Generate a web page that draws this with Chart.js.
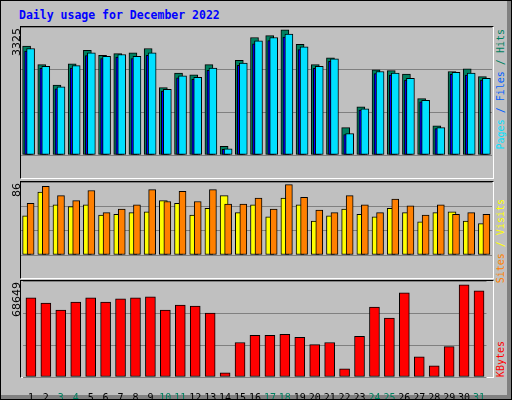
<!DOCTYPE html>
<html>
<head>
<meta charset="utf-8">
<script src="https://cdn.jsdelivr.net/npm/chart.js@4/dist/chart.umd.min.js"></script>
<style>
  body { margin: 0; }
  #frame { position: relative; width: 510px; height: 398px; background: #c0c0c0; border: 1px solid #000;
           box-shadow: inset -4px -4px 0 #808080; overflow: hidden; font-family: "DejaVu Sans Mono", monospace; }
  #title { position: absolute; left: 18px; top: 7px; color: #0000ff; font-weight: bold; font-size: 11.5px; }
  .panel { position: absolute; left: 19px; width: 472px; border-top: 1px solid #000; border-left: 1px solid #000;
           border-bottom: 1px solid #fff; border-right: 1px solid #fff; }
  canvas { position: absolute; left: 20px; }
  .vlab { position: absolute; white-space: nowrap; transform-origin: 0 0; transform: rotate(-90deg) translateX(-100%);
          line-height: 12px; }
  .maxlab { left: 10px; font-family: "DejaVu Sans", sans-serif; font-size: 11px; color: #000; }
  .side { left: 494px; font-size: 10px; }
</style>
</head>
<body>
<div id="frame">
  <div id="title">Daily usage for December 2022</div>
  <div class="panel" style="top:25px;height:151px"></div>
  <div class="panel" style="top:180px;height:96px"></div>
  <div class="panel" style="top:279px;height:96px"></div>
  <canvas id="top" width="471" height="151" style="top:26px"></canvas>
  <canvas id="mid" width="471" height="96" style="top:181px"></canvas>
  <canvas id="bot" width="471" height="119" style="top:280px"></canvas>
  <div class="vlab maxlab" style="top:27px">3325</div>
  <div class="vlab maxlab" style="top:182px">86</div>
  <div class="vlab maxlab" style="top:281px">68649</div>
  <div class="vlab side" style="top:28px"><span style="color:#00e0ff">Pages</span><span style="color:#0060ff"> / Files</span><span style="color:#008060"> / Hits</span></div>
  <div class="vlab side" style="top:198px"><span style="color:#ff8000">Sites</span><span style="color:#ffff00"> / Visits</span></div>
  <div class="vlab side" style="top:340px;color:#ff0000">KBytes</div>
</div>
<script>
const days = Array.from({length: 31}, (_, i) => String(i + 1));
const weekendDays = ['3', '4', '10', '11', '17', '18', '24', '25', '31'];

const hits = [2895, 2399, 1857, 2421, 2782, 2647, 2692, 2715, 2828, 1790, 2173, 2128, 2399, 233, 2512, 3121,
              3173, 3325, 2940, 2399, 2579, 729, 1278, 2264, 2241, 2151, 1496, 775, 2218, 2286, 2083];
const files = [2828, 2354, 1812, 2376, 2715, 2624, 2670, 2624, 2715, 1745, 2106, 2060, 2309, 165, 2444, 3031,
               3121, 3211, 2873, 2354, 2557, 572, 1226, 2218, 2173, 2038, 1451, 729, 2196, 2173, 2038];
const pages = [2760, 2300, 1760, 2310, 2640, 2560, 2600, 2560, 2650, 1700, 2050, 2010, 2250, 150, 2380, 2950,
               3040, 3130, 2800, 2300, 2490, 540, 1190, 2160, 2120, 1990, 1410, 700, 2140, 2120, 1990];
const visits = [46, 74, 59, 57, 59, 47, 48, 50, 51, 64, 61, 47, 55, 70, 50, 59, 45, 67, 59, 40, 46, 54, 48, 45,
                55, 50, 39, 50, 51, 40, 37];
const sites = [61, 81, 70, 64, 76, 50, 54, 59, 77, 63, 75, 63, 77, 60, 60, 67, 54, 83, 68, 53, 50, 70, 59, 50,
               66, 58, 47, 59, 48, 50, 48];
const kbytes = [56558, 52932, 47857, 53657, 56558, 53657, 55833, 56558, 57283, 47857, 51482, 50757, 45681, 2900,
                24653, 29729, 29729, 30454, 28279, 23203, 24653, 5801, 29004, 50032, 42056, 60183, 14502, 7976,
                21753, 65984, 61634];

// shift bars sideways so they overlap like webalizer does
const shiftPlugin = {
    id: 'shift',
    afterDatasetsUpdate(chart) {
        chart.data.datasets.forEach((ds, i) => {
            chart.getDatasetMeta(i).data.forEach(bar => { bar.x += ds.shift || 0; });
        });
    }
};

function bar(label, data, color, width, shift, order) {
    return { label, data, backgroundColor: color, borderColor: '#000', borderWidth: 1,
             barThickness: width, shift, order, borderSkipped: false };
}

function makeChart(id, datasets, max, showX) {
    new Chart(document.getElementById(id), {
        type: 'bar',
        data: { labels: days, datasets },
        plugins: [shiftPlugin],
        options: {
            responsive: false,
            devicePixelRatio: 1,
            animation: false,
            layout: { padding: 0 },
            plugins: { legend: { display: false }, tooltip: { enabled: false } },
            datasets: { bar: { grouped: false } },
            scales: {
                x: {
                    display: showX,
                    grid: { display: false },
                    border: { display: false },
                    afterFit: s => { s.height = 23; },
                    ticks: {
                        padding: 7,
                        autoSkip: false,
                        maxRotation: 0,
                        font: { family: 'DejaVu Sans Mono', size: 10 },
                        color: ctx => weekendDays.includes(days[ctx.index]) ? '#008060' : '#000'
                    }
                },
                y: {
                    min: 0,
                    max: max,
                    afterFit: s => { s.width = 0; },
                    ticks: { display: false, stepSize: max / 3 },
                    border: { display: false },
                    grid: { color: '#808080', drawTicks: false }
                }
            }
        }
    });
}

makeChart('top', [
    bar('Hits', hits, '#008060', 8, -2, 2),
    bar('Pages', pages, '#0000ff', 8, 0, 1),
    bar('Files', files, '#00e0ff', 8, 2, 0)
], 3400, false);

makeChart('mid', [
    bar('Visits', visits, '#ffff00', 8, -2, 1),
    bar('Sites', sites, '#ff8000', 7, 2, 0)
], 86, false);

makeChart('bot', [
    bar('KBytes', kbytes, '#ff0000', 10, 0, 0)
], 68649, true);
</script>
</body>
</html>
